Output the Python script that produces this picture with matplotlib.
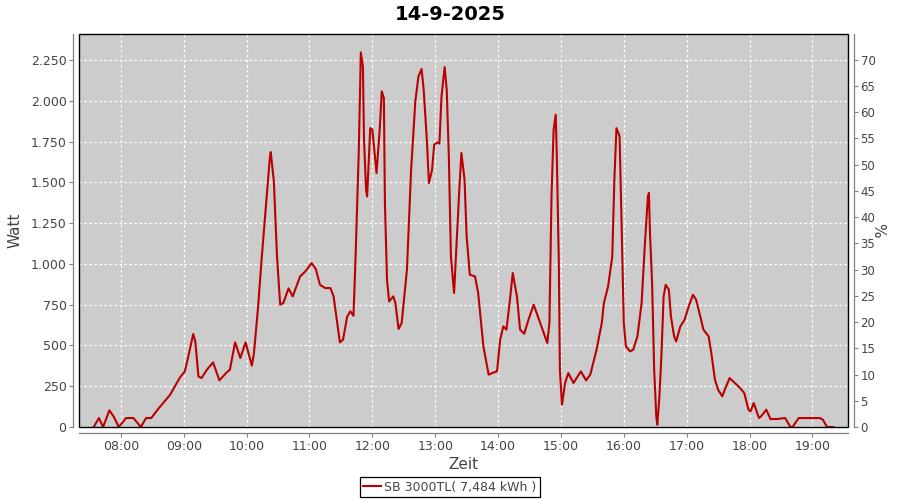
import matplotlib.pyplot as plt
from matplotlib.patches import Rectangle
from matplotlib.ticker import FuncFormatter, MultipleLocator

# 5-minute-ish readings of the inverter
times = [
    "07:34", "07:39", "07:43", "07:49", "07:53", "07:58", "08:05", "08:12", "08:19", "08:24",
    "08:29", "08:35", "08:47", "08:56", "09:01", "09:04", "09:09", "09:11", "09:14", "09:17",
    "09:22", "09:28", "09:34", "09:41", "09:44", "09:49", "09:54", "09:59", "10:05", "10:07",
    "10:11", "10:14", "10:18", "10:22", "10:23", "10:26", "10:29", "10:32", "10:35", "10:40",
    "10:44", "10:51", "10:56", "11:02", "11:06", "11:10", "11:15", "11:20", "11:23", "11:29",
    "11:32", "11:36", "11:39", "11:42", "11:44", "11:47", "11:48", "11:49", "11:51", "11:52",
    "11:54", "11:55", "11:58", "12:00", "12:03", "12:04", "12:07", "12:09", "12:11", "12:12",
    "12:14", "12:16", "12:20", "12:22", "12:25", "12:28", "12:33", "12:37", "12:41", "12:44",
    "12:47", "12:49", "12:52", "12:54", "12:57", "12:59", "13:02", "13:04", "13:06", "13:09",
    "13:11", "13:13", "13:15", "13:18", "13:21", "13:23", "13:25", "13:28", "13:30", "13:33",
    "13:38", "13:41", "13:46", "13:51", "13:56", "13:59", "14:02", "14:05", "14:08", "14:11",
    "14:14", "14:18", "14:21", "14:25", "14:29", "14:34", "14:38", "14:43", "14:47", "14:49",
    "14:51", "14:53", "14:55", "14:56", "14:58", "14:59", "15:01", "15:04", "15:07", "15:12",
    "15:19", "15:24", "15:28", "15:34", "15:39", "15:41", "15:45", "15:49", "15:51", "15:53",
    "15:56", "15:58", "16:00", "16:02", "16:06", "16:09", "16:13", "16:17", "16:20", "16:23",
    "16:24", "16:25", "16:27", "16:29", "16:31", "16:32", "16:34", "16:36", "16:38", "16:40",
    "16:43", "16:45", "16:48", "16:50", "16:54", "16:58", "17:02", "17:06", "17:09", "17:13",
    "17:16", "17:21", "17:24", "17:27", "17:30", "17:34", "17:37", "17:41", "17:46", "17:51",
    "17:55", "17:59", "18:01", "18:04", "18:09", "18:11", "18:16", "18:20", "18:26", "18:34",
    "18:39", "18:41", "18:47", "19:07", "19:10", "19:14", "19:20",
]
watts = [
    0, 55, 0, 102, 65, 0, 55, 55, 0, 55,
    55, 106, 198, 300, 341, 423, 570, 525, 310, 300,
    351, 396, 286, 335, 351, 519, 423, 519, 376, 454,
    740, 1005, 1322, 1639, 1686, 1506, 1046, 750, 760, 850,
    801, 923, 954, 1005, 969, 872, 852, 852, 801, 519,
    535, 678, 709, 682, 1046, 1680, 1986, 2297, 2211, 1772,
    1455, 1414, 1833, 1823, 1619, 1557, 1823, 2058, 2017, 1373,
    903, 770, 801, 760, 601, 638, 964, 1577, 1996, 2150,
    2195, 2068, 1762, 1496, 1578, 1731, 1745, 1738, 2027, 2207,
    2068, 1659, 1046, 822, 1210, 1455, 1680, 1516, 1169, 934,
    923, 822, 494, 321, 335, 341, 535, 617, 597, 760,
    944, 801, 597, 572, 658, 750, 678, 586, 515, 638,
    1414, 1823, 1915, 1680, 1005, 351, 137, 270, 331, 270,
    341, 286, 321, 474, 638, 760, 862, 1046, 1516, 1833,
    1782, 1210, 638, 494, 464, 474, 556, 760, 1107, 1414,
    1435, 1189, 883, 351, 65, 14, 188, 454, 801, 872,
    842, 678, 556, 525, 617, 658, 740, 811, 781, 678,
    597, 556, 433, 290, 229, 188, 239, 300, 270, 239,
    208, 106, 96, 147, 55, 65, 106, 49, 49, 55,
    0, 0, 55, 55, 45, 0, 0,
]

title = "14-9-2025"
series_label = "SB 3000TL( 7,484 kWh )"

LINE_RED = "#bb0000"
AXIS_GRAY = "#808080"
TEXT_COLOR = "#444444"


def to_hours(hhmm: str) -> float:
    h, m = hhmm.split(":")
    return int(h) + int(m) / 60


hours = [to_hours(t) for t in times]

fig = plt.figure(figsize=(9, 5), dpi=100)
ax = fig.add_axes([79 / 900, 73 / 500, 769 / 900, 393 / 500])
ax.set_facecolor("#cccccc")

ax.plot(hours, watts, color=LINE_RED, lw=1.5, label=series_label, zorder=3)

ax.set_xlim(to_hours("07:20"), to_hours("19:34"))
ax.set_ylim(0, 2410)
ax.xaxis.set_major_locator(MultipleLocator(1))
ax.xaxis.set_major_formatter(FuncFormatter(lambda v, _: f"{int(round(v)):02d}:00"))
ax.yaxis.set_major_locator(MultipleLocator(250))
ax.yaxis.set_major_formatter(FuncFormatter(lambda v, _: f"{int(v):,}".replace(",", ".")))
ax.grid(True, color="white", linestyle=(0, (2, 2)), linewidth=0.9)
ax.set_axisbelow(True)

ax2 = ax.twinx()
ax2.set_ylim(0, 74.9)
ax2.yaxis.set_major_locator(MultipleLocator(5))

for a in (ax, ax2):
    for side in ("left", "right", "top", "bottom"):
        a.spines[side].set_visible(False)
    a.tick_params(colors=AXIS_GRAY, labelcolor=TEXT_COLOR, labelsize=9, length=3, width=0.8, pad=2)
ax2.tick_params(labelsize=8.5)

for a, side in ((ax, "left"), (ax, "bottom"), (ax2, "right")):
    sp = a.spines[side]
    sp.set_visible(True)
    sp.set_position(("outward", 4))
    sp.set_color(AXIS_GRAY)
    sp.set_linewidth(0.9)

# black plot frame
ax2.add_patch(Rectangle((0, 0), 1, 1, transform=ax.transAxes, fill=False,
                        edgecolor="black", lw=1.0, clip_on=False, zorder=5))

ax.set_xlabel("Zeit", fontsize=11, color=TEXT_COLOR, labelpad=3)
ax.set_ylabel("Watt", fontsize=11, color=TEXT_COLOR, labelpad=6)
ax2.set_ylabel("%", fontsize=11, color=TEXT_COLOR, labelpad=-4, rotation=-90, va="bottom")

fig.suptitle(title, x=0.5, y=0.99, fontsize=14, fontweight="bold", va="top")

handles, labels = ax.get_legend_handles_labels()
leg = fig.legend(handles, labels, loc="center", bbox_to_anchor=(0.5, 0.026),
                 fontsize=9, fancybox=False, framealpha=1, edgecolor="black",
                 handlelength=1.4, handletextpad=0.3, borderpad=0.25, borderaxespad=0)
leg.get_frame().set_linewidth(0.9)
for txt in leg.get_texts():
    txt.set_color(TEXT_COLOR)

fig.savefig("out.png", dpi=100)
